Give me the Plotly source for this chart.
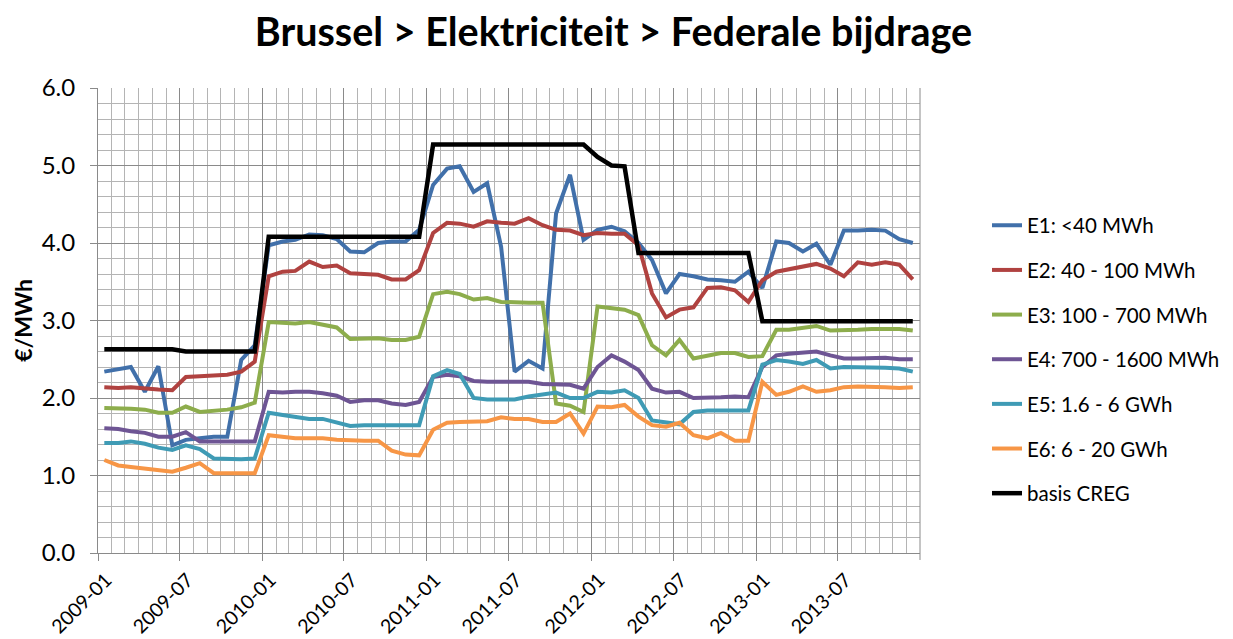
import plotly.graph_objects as go

# Monthly categories 2009-01 .. 2013-12 (points plotted mid-month)
years = [2009, 2010, 2011, 2012, 2013]
months = [f"{y}-{m:02d}-15" for y in years for m in range(1, 13)]

series_names = ["E1: <40 MWh", "E2: 40 - 100 MWh", "E3: 100 - 700 MWh",
                "E4: 700 - 1600 MWh", "E5: 1.6 - 6 GWh", "E6: 6 - 20 GWh",
                "basis CREG"]

e1 = [2.34, 2.37, 2.40, 2.08, 2.41, 1.39, 1.46, 1.48, 1.50, 1.50, 2.49, 2.68,
      3.97, 4.02, 4.04, 4.11, 4.10, 4.05, 3.89, 3.88, 4.00, 4.02, 4.02, 4.17,
      4.75, 4.96, 4.99, 4.66, 4.77, 3.95, 2.34, 2.48, 2.38, 4.38, 4.88, 4.04,
      4.17, 4.21, 4.15, 4.00, 3.78, 3.35, 3.60, 3.57, 3.53, 3.52, 3.50, 3.63,
      3.42, 4.02, 4.00, 3.89, 3.99, 3.72, 4.16, 4.16, 4.17, 4.16, 4.05, 4.00]
e2 = [2.14, 2.13, 2.14, 2.12, 2.11, 2.10, 2.27, 2.28, 2.29, 2.30, 2.34, 2.47,
      3.57, 3.63, 3.64, 3.76, 3.69, 3.71, 3.61, 3.60, 3.59, 3.53, 3.53, 3.65,
      4.13, 4.26, 4.25, 4.21, 4.28, 4.26, 4.25, 4.32, 4.23, 4.17, 4.16, 4.10,
      4.13, 4.12, 4.12, 3.97, 3.35, 3.04, 3.14, 3.17, 3.42, 3.43, 3.39, 3.24,
      3.52, 3.63, 3.66, 3.69, 3.73, 3.67, 3.57, 3.75, 3.72, 3.75, 3.72, 3.53]
e3 = [1.87, 1.87, 1.86, 1.85, 1.81, 1.81, 1.89, 1.82, 1.83, 1.85, 1.88, 1.94,
      2.98, 2.97, 2.96, 2.98, 2.95, 2.91, 2.76, 2.76, 2.77, 2.75, 2.75, 2.79,
      3.34, 3.37, 3.34, 3.27, 3.29, 3.24, 3.23, 3.23, 3.23, 1.93, 1.90, 1.82,
      3.18, 3.16, 3.14, 3.07, 2.68, 2.55, 2.75, 2.51, 2.55, 2.58, 2.58, 2.53,
      2.54, 2.88, 2.88, 2.90, 2.93, 2.87, 2.87, 2.88, 2.89, 2.89, 2.89, 2.87]
e4 = [1.61, 1.60, 1.57, 1.55, 1.50, 1.50, 1.56, 1.44, 1.44, 1.44, 1.44, 1.44,
      2.08, 2.07, 2.08, 2.08, 2.06, 2.03, 1.95, 1.97, 1.97, 1.93, 1.91, 1.95,
      2.27, 2.30, 2.28, 2.22, 2.21, 2.21, 2.21, 2.21, 2.18, 2.17, 2.17, 2.12,
      2.40, 2.55, 2.47, 2.36, 2.12, 2.07, 2.08, 2.00, 2.00, 2.01, 2.02, 2.01,
      2.40, 2.55, 2.57, 2.58, 2.60, 2.55, 2.51, 2.51, 2.52, 2.52, 2.50, 2.50]
e5 = [1.42, 1.42, 1.44, 1.41, 1.36, 1.33, 1.39, 1.34, 1.22, 1.21, 1.21, 1.22,
      1.81, 1.78, 1.76, 1.73, 1.73, 1.69, 1.64, 1.65, 1.65, 1.66, 1.65, 1.65,
      2.28, 2.36, 2.31, 2.00, 1.98, 1.98, 1.98, 2.02, 2.04, 2.07, 2.00, 2.00,
      2.08, 2.07, 2.10, 2.00, 1.71, 1.68, 1.66, 1.82, 1.84, 1.84, 1.84, 1.84,
      2.43, 2.49, 2.47, 2.44, 2.49, 2.38, 2.40, 2.40, 2.40, 2.39, 2.38, 2.34]
e6 = [1.20, 1.13, 1.11, 1.09, 1.07, 1.05, 1.10, 1.16, 1.03, 1.03, 1.03, 1.03,
      1.52, 1.50, 1.48, 1.48, 1.48, 1.46, 1.45, 1.45, 1.45, 1.32, 1.27, 1.26,
      1.59, 1.68, 1.69, 1.69, 1.70, 1.75, 1.73, 1.73, 1.69, 1.69, 1.80, 1.54,
      1.89, 1.88, 1.91, 1.76, 1.65, 1.63, 1.68, 1.52, 1.48, 1.55, 1.45, 1.45,
      2.21, 2.04, 2.08, 2.15, 2.08, 2.10, 2.14, 2.15, 2.15, 2.14, 2.13, 2.14]
creg = [2.63, 2.63, 2.63, 2.63, 2.63, 2.63, 2.60, 2.60, 2.60, 2.60, 2.60, 2.60,
        4.08, 4.08, 4.08, 4.08, 4.08, 4.08, 4.08, 4.08, 4.08, 4.08, 4.08, 4.08,
        5.27, 5.27, 5.27, 5.27, 5.27, 5.27, 5.27, 5.27, 5.27, 5.27, 5.27, 5.27,
        5.11, 5.00, 4.99, 3.87, 3.87, 3.87, 3.87, 3.87, 3.87, 3.87, 3.87, 3.87,
        2.99, 2.99, 2.99, 2.99, 2.99, 2.99, 2.99, 2.99, 2.99, 2.99, 2.99, 2.99]

colors = ["#4170AA", "#B04240", "#8DAD4C", "#6E5594", "#3F9BB5", "#F79646", "#000000"]
widths = [4, 4, 4, 4, 4, 4, 4.5]
all_series = [e1, e2, e3, e4, e5, e6, creg]

FONT = "Lato, 'Liberation Sans', sans-serif"

fig = go.Figure()
for i, (name, vals) in enumerate(zip(series_names, all_series)):
    fig.add_trace(go.Scatter(
        x=months, y=vals, name=name, mode="lines",
        line=dict(color=colors[i], width=widths[i]),
        legendgroup=f"g{i}",
    ))

major_col = "#8a8a8a"
minor_col = "#b4b4b4"

# right border of plot area with its tick (the 2014-01 tick has no label)
fig.add_shape(type="line", xref="paper", yref="paper", x0=1, x1=1, y0=-0.015, y1=1,
              line=dict(color=major_col, width=1))

fig.update_layout(
    width=1233, height=639,
    margin=dict(l=90, r=321, t=80, b=94, autoexpand=False),
    paper_bgcolor="white", plot_bgcolor="white",
    title=dict(text="<b>Brussel > Elektriciteit > Federale bijdrage</b>",
               x=0.491, xanchor="center", y=0.962, yanchor="middle",
               font=dict(family=FONT, size=39.5, color="#000000")),
    font=dict(family=FONT, color="#000000"),
    showlegend=True,
    legend=dict(xref="container", yref="container",
                x=0.794, xanchor="left", y=0.45, yanchor="middle",
                font=dict(family=FONT, size=20.5, color="#000000"),
                tracegroupgap=15, traceorder="grouped",
                bgcolor="rgba(0,0,0,0)"),
    xaxis=dict(
        type="date", automargin=False,
        range=["2009-01-01", "2013-12-31"],
        tick0="2009-01-01", dtick="M6", tickformat="%Y-%m",
        tickangle=-45, tickfont=dict(family=FONT, size=19.5, color="#000000"),
        ticklabelstandoff=0, ticklabelshift=8,
        showgrid=True, gridcolor=major_col, gridwidth=1,
        showline=True, linecolor=major_col, linewidth=1,
        ticks="outside", ticklen=7, tickcolor=major_col,
        minor=dict(dtick="M1", tick0="2009-01-01", showgrid=True,
                   gridcolor=minor_col, gridwidth=1, ticks=""),
        mirror=False,
    ),
    yaxis=dict(
        range=[0, 6], dtick=1, tick0=0, tickformat=".1f", automargin=False,
        tickfont=dict(family=FONT, size=24, color="#000000"),
        ticklabelstandoff=10,
        title=dict(text="<b>€/MWh</b>", font=dict(family=FONT, size=23, color="#000000"),
                   standoff=2),
        showgrid=True, gridcolor=major_col, gridwidth=1,
        showline=True, linecolor=major_col, linewidth=1,
        ticks="outside", ticklen=7, tickcolor=major_col,
        zeroline=False,
        minor=dict(dtick=0.2, showgrid=True, gridcolor=minor_col, gridwidth=1, ticks=""),
    ),
)

fig.write_html("out.html")
